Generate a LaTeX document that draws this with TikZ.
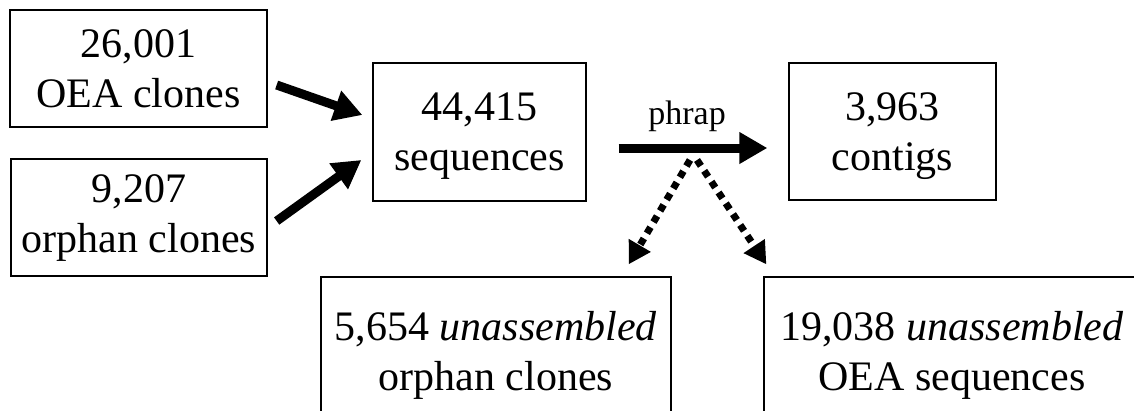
\documentclass[tikz,border=0pt]{standalone}
\usepackage{fontspec}
\setmainfont{Liberation Serif}
\usepackage{tikz}
\usetikzlibrary{arrows.meta,positioning,calc}
\tikzset{
  box/.style={rectangle, draw=black, fill=white, line width=1.3pt, align=center,
              inner sep=0pt, font=\fontsize{42}{50}\selectfont},
  lowbox/.style={box, text depth=-10pt},
  flow/.style={-{Triangle[length=28pt,width=30pt]}, draw=black, line width=9pt},
  splitflow/.style={-{Triangle[length=22pt,width=24pt]}, draw=black, line width=7pt,
                    dash pattern=on 7pt off 6pt},
  lbl/.style={font=\fontsize{34}{40}\selectfont, inner sep=0pt}
}

\begin{document}
\begin{tikzpicture}[x=1pt, y=-1pt]
  \useasboundingbox (0,0) rectangle (1134,410);
  \node[box, minimum width=257pt, minimum height=117pt] (oea) at (138.5,68.5) {26,001\\OEA clones};
  \node[box, minimum width=256pt, minimum height=117pt] (orphan) at (139,217.5) {9,207\\orphan clones};
  \node[lowbox, minimum width=213pt, minimum height=138pt] (seqs) at (479.5,132) {44,415\\sequences};
  \node[lowbox, minimum width=207pt, minimum height=137pt] (contigs) at (892.5,131.5) {3,963\\contigs};
  \node[box, minimum width=350pt, minimum height=156pt] (unorph) at (496,355) {5,654 \textit{unassembled}\\orphan clones};
  \node[box, minimum width=376pt, minimum height=156pt] (unoea) at (952,355) {19,038 \textit{unassembled}\\OEA sequences};
  \draw[flow] ([shift={(9,16.5)}]oea.east) -- ([shift={(-10,-17)}]seqs.west);
  \draw[flow] ([shift={(9,3.5)}]orphan.east) -- ([shift={(-11,28)}]seqs.west);
  \draw[flow] ([shift={(32,16)}]seqs.east) -- coordinate[pos=0.5] (split)
    node[lbl, pos=0.46, above=12pt] (phrap) {phrap} ([shift={(-21,16.5)}]contigs.west);
  \draw[splitflow] ([shift={(-3,12)}]split) -- ([shift={(-43,-12)}]unorph.north east);
  \draw[splitflow] ([shift={(4,12)}]split) -- ([shift={(3,-12)}]unoea.north west);
\end{tikzpicture}
\end{document}
